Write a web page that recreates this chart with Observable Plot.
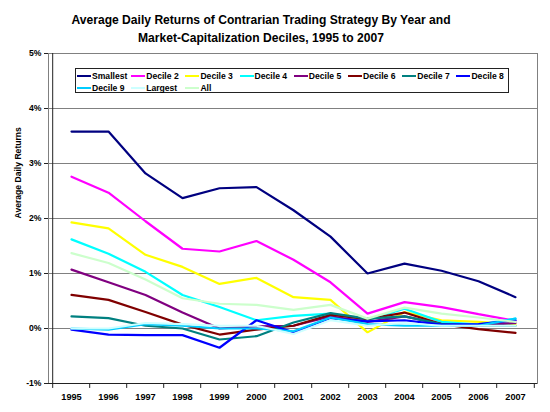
<!DOCTYPE html>
<html>
<head>
<meta charset="utf-8">
<script src="https://cdn.jsdelivr.net/npm/d3@7"></script>
<script src="https://cdn.jsdelivr.net/npm/@observablehq/plot@0.6"></script>
<style>
  body { margin: 0; background: #fff; }
  #wrap { position: relative; width: 550px; height: 412px; font-family: "Liberation Sans", Arial, sans-serif; }
  #title { box-sizing: border-box; height: 44px; width: 522px; padding-top: 12px; text-align: center;
           font-weight: bold; font-size: 12.1px; line-height: 17.5px; color: #000; white-space: nowrap; }
  #legend { position: absolute; left: 75px; top: 68px; width: 434px; height: 25px; box-sizing: border-box;
            border: 1px solid #222; background: #fff; }
  .item { position: absolute; height: 12px; font-weight: bold; font-size: 8.6px; line-height: 12px; color: #000; white-space: nowrap; }
  .sw { position: absolute; left: 0; top: 5px; width: 14px; height: 2.4px; }
  .lt { position: absolute; left: 15px; top: 0; }
</style>
</head>
<body>
<div id="wrap">
  <div id="title">Average Daily Returns of Contrarian Trading Strategy By Year and<br>Market-Capitalization Deciles, 1995 to 2007</div>
  <div id="chart"></div>
  <div id="legend"></div>
</div>
<script>
// ---- data (average daily returns, %) ----
const years = [1995, 1996, 1997, 1998, 1999, 2000, 2001, 2002, 2003, 2004, 2005, 2006, 2007];
const seriesNames = ["Smallest", "Decile 2", "Decile 3", "Decile 4", "Decile 5", "Decile 6", "Decile 7", "Decile 8", "Decile 9", "Largest", "All"];
const seriesColors = ["#000080", "#FF00FF", "#FFFF00", "#00FFFF", "#800080", "#800000", "#008080", "#0000FF", "#00CCFF", "#CCFFFF", "#CCFFCC"];
const smallest = [3.58, 3.58, 2.82, 2.37, 2.55, 2.57, 2.15, 1.67, 1.00, 1.18, 1.05, 0.86, 0.57];
const decile2  = [2.76, 2.47, 1.95, 1.45, 1.40, 1.59, 1.25, 0.84, 0.27, 0.48, 0.39, 0.26, 0.14];
const decile3  = [1.93, 1.82, 1.34, 1.12, 0.81, 0.92, 0.57, 0.52, -0.07, 0.30, 0.15, 0.12, 0.08];
const decile4  = [1.62, 1.36, 1.03, 0.61, 0.39, 0.15, 0.23, 0.27, 0.15, 0.36, 0.12, 0.07, 0.18];
const decile5  = [1.07, 0.84, 0.61, 0.29, 0.00, 0.04, 0.05, 0.22, 0.12, 0.22, 0.08, 0.05, 0.10];
const decile6  = [0.61, 0.52, 0.30, 0.07, -0.11, -0.02, 0.05, 0.25, 0.17, 0.29, 0.08, -0.01, -0.08];
const decile7  = [0.22, 0.19, 0.05, 0.00, -0.20, -0.14, 0.11, 0.28, 0.18, 0.22, 0.08, 0.05, 0.05];
const decile8  = [-0.02, -0.11, -0.12, -0.12, -0.35, 0.15, -0.07, 0.19, 0.13, 0.15, 0.07, 0.08, 0.15];
const decile9  = [0.00, -0.02, 0.08, 0.05, 0.00, 0.00, -0.05, 0.20, 0.08, 0.05, 0.05, 0.05, 0.18];
const largest  = [0.00, 0.00, 0.10, 0.08, 0.05, 0.05, -0.10, 0.15, 0.05, 0.10, 0.05, 0.05, 0.05];
const all      = [1.37, 1.19, 0.89, 0.55, 0.45, 0.43, 0.34, 0.43, 0.18, 0.38, 0.27, 0.20, 0.12];
const yTicks = [-1, 0, 1, 2, 3, 4, 5];
const gridTicks = [0, 1, 2, 3, 4];
const yLabel = "Average Daily Returns";

const seriesValues = [smallest, decile2, decile3, decile4, decile5, decile6, decile7, decile8, decile9, largest, all];
const data = seriesNames.flatMap((name, i) => seriesValues[i].map((v, j) => ({series: name, year: years[j], value: v})));

try {
  const W = 550, H = 368, mL = 48, mR = 13, mT = 9, mB = 29;
  const step = (W - mL - mR) / years.length;
  const chart = Plot.plot({
    width: W, height: H,
    marginLeft: mL, marginRight: mR, marginTop: mT, marginBottom: mB,
    style: {fontFamily: '"Liberation Sans", Arial, sans-serif', fontWeight: "bold", fontSize: "8.6px", background: "#fff", color: "#000"},
    x: {type: "point", domain: years, padding: 0.5},
    y: {domain: [-1, 5]},
    color: {domain: seriesNames, range: seriesColors},
    marks: [
      Plot.gridY(gridTicks, {stroke: "#808080", strokeOpacity: 1, strokeWidth: 1}),
      Plot.frame({stroke: "#808080"}),
      Plot.ruleY([-1], {stroke: "#222"}),
      Plot.ruleX(years, {x: d => d, dx: -step / 2, y1: -1, y2: -1.09, stroke: "#222"}),
      Plot.ruleX([years[years.length - 1]], {x: d => d, dx: step / 2, y1: -1, y2: -1.09, stroke: "#222"}),
      Plot.ruleX([years[0]], {x: d => d, dx: -step / 2, y1: -1, y2: 5, stroke: "#222"}),
      Plot.axisY({ticks: yTicks, tickFormat: d => d + "%", tickSize: 4, tickPadding: 3, label: null, stroke: "#222"}),
      Plot.axisX({tickSize: 0, tickPadding: 10, tickFormat: d => String(d), label: null, fontSize: 9.2}),
      Plot.text([yLabel], {text: d => d, frameAnchor: "left", dx: -30, rotate: -90, fontSize: 8.6, fontWeight: "bold"}),
      Plot.line(data, {x: "year", y: "value", z: "series", stroke: "series", strokeWidth: 2.2, strokeLinejoin: "miter"})
    ]
  });
  document.getElementById("chart").appendChild(chart);

  const legend = document.getElementById("legend");
  const colW = 54.2;
  seriesNames.forEach((name, i) => {
    const row = i < 8 ? 0 : 1;
    const col = i < 8 ? i : i - 8;
    const item = document.createElement("div");
    item.className = "item";
    item.style.left = (1 + col * colW) + "px";
    item.style.top = (row === 0 ? 0.5 : 12.5) + "px";
    const sw = document.createElement("div");
    sw.className = "sw";
    sw.style.background = seriesColors[i];
    const lt = document.createElement("div");
    lt.className = "lt";
    lt.textContent = name;
    item.appendChild(sw);
    item.appendChild(lt);
    legend.appendChild(item);
  });
} catch (e) {
  document.body.insertAdjacentHTML("beforeend", "<pre>" + e + "</pre>");
}
</script>
</body>
</html>
